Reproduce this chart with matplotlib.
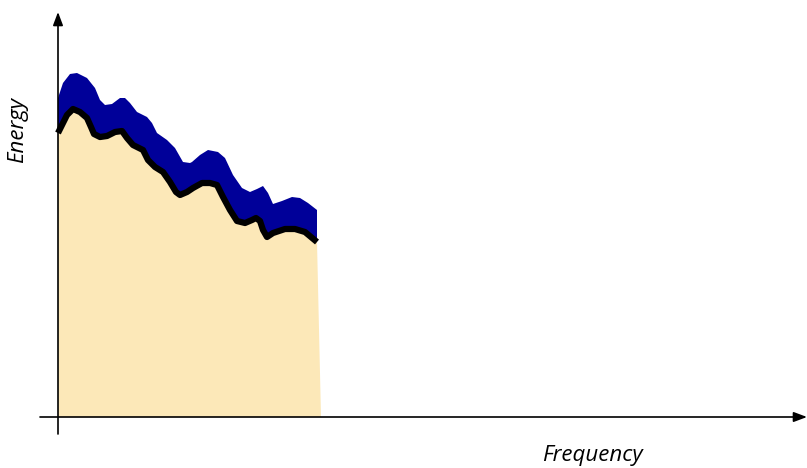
"""
Figure: energy vs frequency spectrum sketch
"""
import matplotlib.pyplot as plt

# --------------------------------------------------------------------------------
# data (frequency, energy)
# --------------------------------------------------------------------------------
FREQ_LOWER = [0, 4, 9, 15, 22, 29, 33, 36, 42, 49, 57, 64, 69, 75, 85, 90, 97, 105, 112,
              118, 122, 129, 135, 144, 152, 159, 165, 172, 179, 187, 194, 198, 202, 205,
              209, 215, 227, 237, 247, 259]
ENERGY_LOWER = [284, 292, 302, 308, 305, 299, 290, 283, 280, 281, 285, 286, 279, 272, 267,
                257, 250, 245, 235, 225, 222, 225, 229, 234, 234, 232, 220, 207, 196, 194,
                197, 199, 196, 187, 180, 184, 188, 188, 185, 175]

FREQ_UPPER = [0, 5, 12, 19, 29, 37, 42, 47, 54, 62, 67, 72, 79, 89, 94, 99, 109, 117, 125,
              132, 134, 142, 150, 160, 167, 175, 184, 192, 199, 205, 210, 215, 224, 234,
              242, 250, 259]
ENERGY_UPPER = [319, 334, 343, 344, 339, 329, 317, 312, 313, 319, 319, 314, 305, 300, 294,
                284, 277, 269, 255, 254, 255, 262, 267, 265, 259, 242, 229, 225, 228, 231,
                224, 213, 216, 220, 219, 214, 207]

FREQ_END = 263

PLOT_DPI = 100
PLOT_X_SIZE = 8.07
PLOT_Y_SIZE = 4.68
BEIGE = "#fce8b8"
NAVY = "#000099"

plt.rcParams['font.family'] = ['Open Sans', 'DejaVu Sans']

fig = plt.figure(figsize=(PLOT_X_SIZE, PLOT_Y_SIZE), dpi=PLOT_DPI, facecolor='w')
ax = fig.add_axes([0, 0, 1, 1])
ax.set_xlim(-58, 749)
ax.set_ylim(-51, 417)
ax.axis('off')

# blue band between lower and upper curves
band_x = FREQ_UPPER + FREQ_LOWER[::-1]
band_y = ENERGY_UPPER + ENERGY_LOWER[::-1]
ax.fill(band_x, band_y, color=NAVY, lw=0, zorder=2)

# beige area under lower curve
area_x = FREQ_LOWER + [FREQ_END, 0]
area_y = ENERGY_LOWER + [0, 0]
ax.fill(area_x, area_y, color=BEIGE, lw=0, zorder=3)

# black line on top of beige area
ax.plot(FREQ_LOWER, ENERGY_LOWER, color='black', lw=4.5, solid_joinstyle='round',
        solid_capstyle='butt', zorder=4)

# axes with arrows
arrow = dict(arrowstyle='-|>,head_length=0.8,head_width=0.3', color='black', lw=1.2,
             shrinkA=0, shrinkB=0)
ax.annotate('', xy=(749, 0), xytext=(-18, 0), arrowprops=arrow, zorder=5)
ax.annotate('', xy=(0, 405), xytext=(0, -17), arrowprops=arrow, zorder=5)

ax.text(534, -39, 'Frequency', fontsize=16, style='italic', ha='center', va='center')
ax.text(-40, 287, 'Energy', fontsize=16, style='italic', ha='center', va='center',
        rotation=90)

plt.savefig('out.png', dpi=PLOT_DPI)
plt.close()
